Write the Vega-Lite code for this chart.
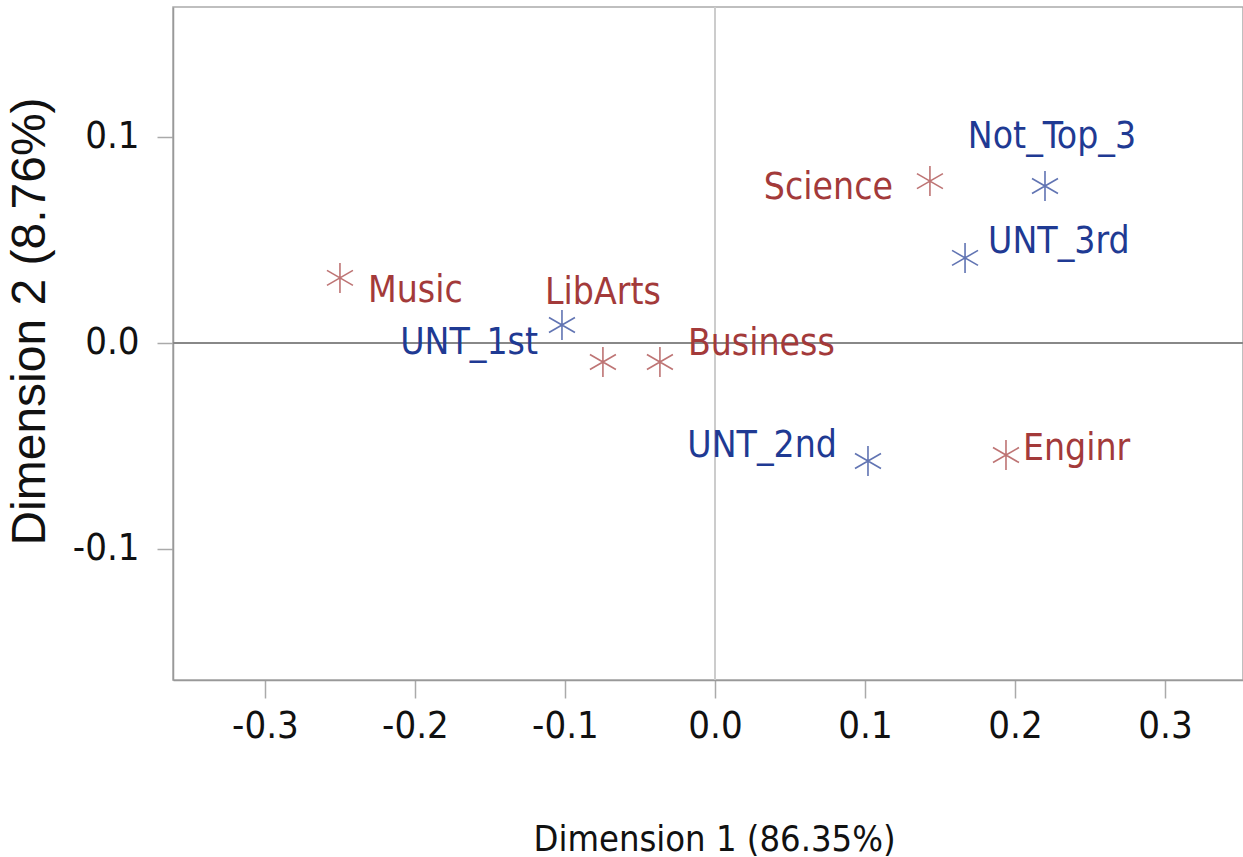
{
  "$schema": "https://vega.github.io/schema/vega-lite/v6.json",
  "width": 1070,
  "height": 673,
  "autosize": "none",
  "padding": {"left": 173, "top": 7, "right": 0, "bottom": 177},
  "background": "white",
  "config": {
    "view": {"stroke": "#aaaaaa", "strokeWidth": 1.5},
    "axis": {"grid": false, "domainColor": "#999999", "domainWidth": 1.5, "tickColor": "#aaaaaa", "tickWidth": 1.5, "labelColor": "#111111", "titleColor": "#111111", "titleFontWeight": "normal"}
  },
  "data": {
    "values": [
      {"label": "Music", "d1": -0.25, "d2": 0.0316, "group": "Major"},
      {"label": "LibArts", "d1": -0.0747, "d2": -0.0092, "group": "Major"},
      {"label": "Business", "d1": -0.0367, "d2": -0.0092, "group": "Major"},
      {"label": "Science", "d1": 0.1433, "d2": 0.0786, "group": "Major"},
      {"label": "Enginr", "d1": 0.194, "d2": -0.0544, "group": "Major"},
      {"label": "UNT_1st", "d1": -0.102, "d2": 0.0087, "group": "Rank"},
      {"label": "UNT_2nd", "d1": 0.102, "d2": -0.0573, "group": "Rank"},
      {"label": "UNT_3rd", "d1": 0.1667, "d2": 0.0413, "group": "Rank"},
      {"label": "Not_Top_3", "d1": 0.22, "d2": 0.0762, "group": "Rank"}
    ]
  },
  "layer": [
    {
      "mark": {"type": "rule", "color": "#cccccc", "strokeWidth": 1.5},
      "encoding": {
        "x": {
          "datum": 0, "type": "quantitative",
          "scale": {"domain": [-0.3613, 0.352], "nice": false, "zero": false},
          "axis": {
            "values": [-0.3, -0.2, -0.1, 0.0, 0.1, 0.2, 0.3],
            "labelExpr": "replace(format(datum.value, '.1f'), '\u2212', '-')",
            "title": "Dimension 1 (86.35%)",
            "tickSize": 18, "labelPadding": 9,
            "labelFont": "DejaVu Sans Condensed, sans-serif",
            "labelFontSize": 38,
            "titleFont": "DejaVu Sans Condensed, sans-serif",
            "titleFontSize": 36,
            "titleX": 541, "titleY": 170, "titleBaseline": "alphabetic"
          }
        }
      }
    },
    {
      "mark": {"type": "rule", "color": "#888888", "strokeWidth": 1.5},
      "encoding": {
        "y": {
          "datum": 0, "type": "quantitative",
          "scale": {"domain": [-0.1636, 0.1631], "nice": false, "zero": false},
          "axis": {
            "values": [-0.1, 0.0, 0.1],
            "labelExpr": "replace(format(datum.value, '.1f'), '\u2212', '-')",
            "title": "Dimension 2 (8.76%)",
            "tickSize": 16, "labelPadding": 18,
            "labelFont": "DejaVu Sans Condensed, sans-serif",
            "labelFontSize": 38,
            "titleFont": "Liberation Sans, Arial, sans-serif",
            "titleFontSize": 48,
            "titleX": -143, "titleY": 314, "titleBaseline": "middle", "titleAlign": "center", "titleAngle": -90
          }
        }
      }
    },
    {
      "encoding": {
        "x": {"field": "d1", "type": "quantitative"},
        "y": {"field": "d2", "type": "quantitative"},
        "color": {
          "field": "group", "type": "nominal",
          "scale": {"domain": ["Major", "Rank"], "range": ["#a33a3a", "#1f3a93"]},
          "legend": null
        },
        "text": {"field": "label"}
      },
      "layer": [
        {"mark": {"type": "point", "shape": "M0,-1L0,1M-0.866,-0.5L0.866,0.5M-0.866,0.5L0.866,-0.5", "filled": false, "size": 900, "strokeWidth": 1.6, "opacity": 0.7}, "encoding": {"text": {"value": ""}}},
        {"transform": [{"filter": "datum.label === 'Music'"}], "mark": {"type": "text", "align": "left", "baseline": "middle", "dx": 28, "dy": 13, "font": "DejaVu Sans Condensed, sans-serif", "fontSize": 37}},
        {"transform": [{"filter": "datum.label === 'UNT_1st'"}], "mark": {"type": "text", "align": "right", "baseline": "middle", "dx": -24, "dy": 18, "font": "DejaVu Sans Condensed, sans-serif", "fontSize": 37}},
        {"transform": [{"filter": "datum.label === 'LibArts'"}], "mark": {"type": "text", "align": "center", "baseline": "middle", "dx": 0, "dy": -69, "font": "DejaVu Sans Condensed, sans-serif", "fontSize": 37}},
        {"transform": [{"filter": "datum.label === 'Business'"}], "mark": {"type": "text", "align": "left", "baseline": "middle", "dx": 28, "dy": -18, "font": "DejaVu Sans Condensed, sans-serif", "fontSize": 37}},
        {"transform": [{"filter": "datum.label === 'Science'"}], "mark": {"type": "text", "align": "right", "baseline": "middle", "dx": -37, "dy": 7, "font": "DejaVu Sans Condensed, sans-serif", "fontSize": 37}},
        {"transform": [{"filter": "datum.label === 'Not_Top_3'"}], "mark": {"type": "text", "align": "center", "baseline": "middle", "dx": 7, "dy": -49, "font": "DejaVu Sans Condensed, sans-serif", "fontSize": 37}},
        {"transform": [{"filter": "datum.label === 'UNT_3rd'"}], "mark": {"type": "text", "align": "left", "baseline": "middle", "dx": 23, "dy": -16, "font": "DejaVu Sans Condensed, sans-serif", "fontSize": 37}},
        {"transform": [{"filter": "datum.label === 'UNT_2nd'"}], "mark": {"type": "text", "align": "right", "baseline": "middle", "dx": -31, "dy": -15, "font": "DejaVu Sans Condensed, sans-serif", "fontSize": 37}},
        {"transform": [{"filter": "datum.label === 'Enginr'"}], "mark": {"type": "text", "align": "left", "baseline": "middle", "dx": 17, "dy": -6, "font": "DejaVu Sans Condensed, sans-serif", "fontSize": 37}}
      ]
    }
  ]
}
